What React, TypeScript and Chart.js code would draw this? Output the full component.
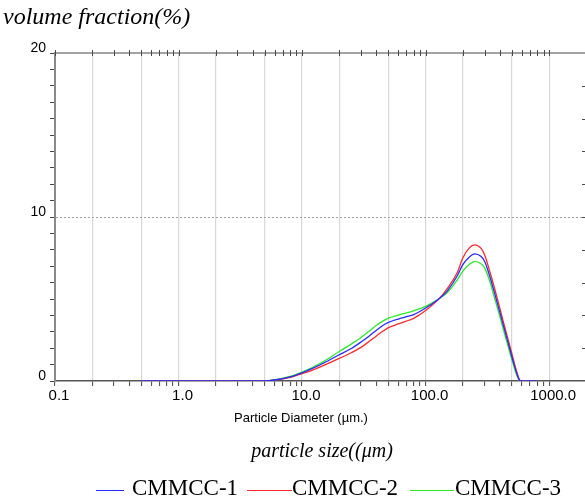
import React, { useEffect, useRef } from 'react';
import { Chart, registerables } from 'chart.js';

Chart.register(...registerables);

// Particle size classes (µm) and volume fractions (%) for each sample
const sizes = [0.5, 0.6, 0.8, 1, 1.5, 2, 3, 4, 5, 6, 8, 10, 12, 15, 20, 25, 30, 35, 40, 45, 50, 60, 70, 80, 100, 130, 150, 180, 200, 225, 250, 280, 300, 330, 360, 400, 440, 480, 520, 550, 580, 620, 700, 800];
const cmmcc1 = [0, 0, 0, 0, 0, 0, 0, 0, 0, 0.06, 0.25, 0.5, 0.75, 1.1, 1.6, 1.98, 2.38, 2.75, 3.1, 3.38, 3.57, 3.78, 3.92, 4.05, 4.45, 5.05, 5.5, 6.4, 7.1, 7.55, 7.75, 7.6, 7.3, 6.4, 5.4, 4.15, 3.0, 1.95, 1.0, 0.4, 0.02, 0, 0, 0];
const cmmcc2 = [0, 0, 0, 0, 0, 0, 0, 0, 0, 0.05, 0.22, 0.45, 0.65, 0.95, 1.38, 1.72, 2.05, 2.42, 2.75, 3.03, 3.25, 3.48, 3.65, 3.82, 4.3, 5.05, 5.65, 6.6, 7.5, 8.1, 8.3, 8.1, 7.7, 6.7, 5.7, 4.4, 3.2, 2.15, 1.15, 0.5, 0.05, 0, 0, 0];
const cmmcc3 = [0, 0, 0, 0, 0, 0, 0, 0, 0, 0.07, 0.28, 0.55, 0.8, 1.2, 1.8, 2.25, 2.65, 3.05, 3.4, 3.65, 3.83, 4.02, 4.15, 4.28, 4.55, 5.05, 5.4, 6.15, 6.7, 7.1, 7.3, 7.15, 6.9, 6.1, 5.1, 3.9, 2.75, 1.75, 0.85, 0.3, 0, 0, 0, 0];

const seriesNames = ['CMMCC-1', 'CMMCC-2', 'CMMCC-3'];
const seriesColors = ['#2a2aff', '#ff2a2a', '#2ae82a'];

// Axis settings
const X_MIN = 0.1;
const X_MAX = 1950;
const majorValues = [0.1, 1, 10, 100, 1000];
const majorLabels = ['0.1', '1.0', '10.0', '100.0', '1000.0'];
const gridMantissas = [1, 2, 5];
const Y_MIN = 0;
const Y_MAX = 20;

const SANS = '"Liberation Sans", Arial, sans-serif';
const SERIF = '"Liberation Serif", "Times New Roman", serif';

// 1..9 ticks within every decade of the log axis
const xTicks: number[] = [];
majorValues.forEach((d) => {
  for (let m = 1; m <= 9; m++) {
    const v = +(m * d).toPrecision(6);
    if (v >= X_MIN && v <= X_MAX) xTicks.push(v);
  }
});

const mantissa = (v: number) => Math.round(v / Math.pow(10, Math.floor(Math.log10(v) + 1e-9)));
const labelFor = (v: number) => {
  const i = majorValues.findIndex((m) => Math.abs(m - v) / m < 1e-6);
  return i >= 0 ? majorLabels[i] : '';
};

// Ticks on the top and right frame edges
const frameTicks = {
  id: 'frameTicks',
  afterDraw(chart: any) {
    const { ctx, chartArea, scales } = chart;
    const { left, right, top } = chartArea;
    ctx.save();
    ctx.strokeStyle = '#4a4a4a';
    ctx.lineWidth = 1.2;
    ctx.beginPath();
    ctx.moveTo(left, top);
    ctx.lineTo(right, top);
    ctx.stroke();
    ctx.lineWidth = 1;
    ctx.beginPath();
    xTicks.forEach((v) => {
      const x = Math.round(scales.x.getPixelForValue(v)) + 0.5;
      ctx.moveTo(x, top - 3);
      ctx.lineTo(x, top + 3);
    });
    for (let v = Y_MIN + 2; v < Y_MAX; v += 2) {
      const y = Math.round(scales.y.getPixelForValue(v)) + 0.5;
      ctx.moveTo(right - 3, y);
      ctx.lineTo(right, y);
    }
    ctx.stroke();
    ctx.restore();
  },
};

export default function App() {
  const ref = useRef<HTMLCanvasElement | null>(null);

  useEffect(() => {
    if (!ref.current) return;
    const series = [cmmcc1, cmmcc2, cmmcc3];
    const chart = new Chart(ref.current, {
      type: 'line',
      data: {
        datasets: series.map((vals, k) => ({
          label: seriesNames[k],
          data: sizes.map((s, i) => ({ x: s, y: vals[i] })),
          borderColor: seriesColors[k],
          borderWidth: 1.3,
          pointRadius: 0,
          fill: false,
          cubicInterpolationMode: 'monotone',
        })),
      },
      options: {
        animation: false,
        responsive: false,
        devicePixelRatio: 1,
        layout: { padding: { top: 53, left: 0, right: 0, bottom: 0 } },
        plugins: {
          legend: { display: false },
          tooltip: { enabled: false },
        },
        scales: {
          x: {
            type: 'logarithmic',
            min: X_MIN,
            max: X_MAX,
            bounds: 'data',
            afterBuildTicks: (s: any) => {
              s.ticks = xTicks.map((v) => ({ value: v }));
            },
            afterFit: (s: any) => {
              s.height = 120;
            },
            ticks: {
              autoSkip: false,
              maxRotation: 0,
              minRotation: 0,
              color: '#000',
              font: { family: SANS, size: 15 },
              padding: 1,
              labelOffset: 4,
              callback: (v: any) => labelFor(Number(v)),
            },
            grid: {
              color: (c: any) =>
                c.tick && gridMantissas.includes(mantissa(c.tick.value)) ? '#d8d8d8' : 'rgba(0,0,0,0)',
              lineWidth: 1.2,
              tickLength: 5,
              tickColor: '#444',
              tickWidth: 1,
            },
            border: { display: true, color: '#555', width: 1.5 },
          },
          y: {
            type: 'linear',
            min: Y_MIN,
            max: Y_MAX,
            afterFit: (s: any) => {
              s.width = 55;
            },
            ticks: {
              stepSize: 1,
              autoSkip: false,
              color: '#000',
              font: { family: SANS, size: 14 },
              padding: 4,
              labelOffset: -5,
              callback: (v: any) => (Number(v) % 10 === 0 ? String(v) : ''),
            },
            grid: {
              color: (c: any) => (c.tick && c.tick.value === 10 ? '#a0a0a0' : 'rgba(0,0,0,0)'),
              lineWidth: 1,
              tickLength: 5,
              tickColor: '#444',
            },
            border: { display: true, color: '#8a8a8a', width: 2, dash: [2, 2] },
          },
        },
      },
      plugins: [frameTicks],
    } as any);
    return () => chart.destroy();
  }, []);

  const abs = (extra: React.CSSProperties): React.CSSProperties => ({
    position: 'absolute',
    whiteSpace: 'nowrap',
    lineHeight: 1,
    color: '#000',
    ...extra,
  });

  const legendLines = [
    { left: 96, width: 28 },
    { left: 247, width: 45 },
    { left: 410, width: 44 },
  ];
  const legendText = [132, 292, 455];

  return (
    <div style={{ position: 'fixed', left: 0, top: 0, width: 585, height: 501, background: '#fff', overflow: 'hidden' }}>
      <canvas ref={ref} width={585} height={501} style={{ position: 'absolute', left: 0, top: 0, width: 585, height: 501 }} />
      <div style={abs({ left: 3, top: 4, fontFamily: SERIF, fontStyle: 'italic', fontSize: 24 })}>volume fraction(%)</div>
      <div style={abs({ left: 301, top: 411, transform: 'translateX(-50%)', fontFamily: SANS, fontSize: 13 })}>
        Particle Diameter (µm.)
      </div>
      <div style={abs({ left: 322, top: 440, transform: 'translateX(-50%)', fontFamily: SERIF, fontStyle: 'italic', fontSize: 20 })}>
        particle size((μm)
      </div>
      {legendLines.map((l, i) => (
        <div key={'l' + i} style={{ position: 'absolute', left: l.left, top: 490, width: l.width, height: 1.3, background: seriesColors[i] }} />
      ))}
      {seriesNames.map((n, i) => (
        <div key={'t' + i} style={abs({ left: legendText[i], top: 476, fontFamily: SERIF, fontSize: 23 })}>
          {n}
        </div>
      ))}
    </div>
  );
}
